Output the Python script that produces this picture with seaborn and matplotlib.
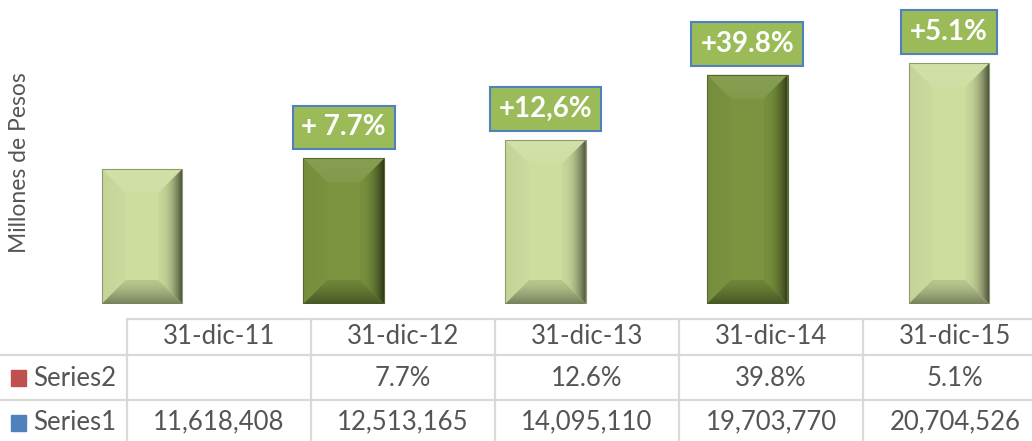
import numpy as np
import pandas as pd
import matplotlib
matplotlib.use("Agg")
import matplotlib.pyplot as plt
from matplotlib.patches import Polygon
from matplotlib.colors import to_rgb
import seaborn as sns

# ---------------------------------------------------
# Daten
# ---------------------------------------------------
fechas = ["31-dic-11", "31-dic-12", "31-dic-13", "31-dic-14", "31-dic-15"]
series1 = [11618408, 12513165, 14095110, 19703770, 20704526]
series2 = [None, 7.7, 12.6, 39.8, 5.1]
etiquetas = [None, "+ 7.7%", "+12,6%", "+39.8%", "+5.1%"]
colores_barras = ["#CCDD9E", "#7A943F", "#CCDD9E", "#7A943F", "#CCDD9E"]

W, H = 1032, 441
FONT = ["Lato", "DejaVu Sans"]
GRIS = "#555555"

sns.set_theme(style="white")
plt.rcParams["font.family"] = FONT

fig = plt.figure(figsize=(W / 100, H / 100), dpi=100)


def fx(x):
    return x / W


def fy(y):
    return 1 - y / H


def mix(c, other, t):
    c = np.array(to_rgb(c))
    o = np.array(to_rgb(other))
    return tuple(c * (1 - t) + o * t)


# ---------------------------------------------------
# Balken
# ---------------------------------------------------
base_y = 304
ax = fig.add_axes([0, fy(base_y), 1, base_y / H])
df = pd.DataFrame({"fecha": fechas, "valor": series1})
sns.barplot(data=df, x="fecha", y="valor", hue="fecha", palette=colores_barras,
            width=0.4, saturation=1, legend=False, ax=ax)

xlim = (-0.704, 4.412)
ylim = (0, 26.14e6)
ax.set_xlim(*xlim)
ax.set_ylim(*ylim)
ax.axis("off")

px_x = (xlim[1] - xlim[0]) / W
px_y = (ylim[1] - ylim[0]) / base_y


def gradient(ax, poly, extent, c_in, c_out, direction, power=1.0):
    n = 64
    t = np.linspace(0, 1, n) ** power
    cols = np.array([mix(c_in, c_out, v) for v in t])
    if direction == "right":
        img = cols[None, :, :]
    elif direction == "left":
        img = cols[::-1][None, :, :]
    elif direction == "up":
        img = cols[:, None, :]
    else:
        img = cols[::-1][:, None, :]
    im = ax.imshow(img, extent=extent, origin="lower", aspect="auto",
                   interpolation="bilinear", zorder=3)
    patch = Polygon(poly, closed=True, transform=ax.transData,
                    facecolor="none", edgecolor="none")
    ax.add_patch(patch)
    im.set_clip_path(patch)


d = 24
for p, base in zip(list(ax.patches), colores_barras):
    x0, y0 = p.get_x(), p.get_y()
    x1, y1 = x0 + p.get_width(), y0 + p.get_height()
    dx, dy = d * px_x, d * px_y
    ix0, ix1, iy0, iy1 = x0 + dx, x1 - dx, y0 + dy, y1 - dy
    # oben
    gradient(ax, [(x0, y1), (x1, y1), (ix1, iy1), (ix0, iy1)],
             (x0, x1, iy1, y1), mix(base, "white", 0.06), mix(base, "white", 0.10), "up")
    # links
    gradient(ax, [(x0, y0), (x0, y1), (ix0, iy1), (ix0, iy0)],
             (x0, ix0, y0, y1), mix(base, "black", 0.01), mix(base, "black", 0.04), "left")
    # rechts
    gradient(ax, [(x1, y0), (x1, y1), (ix1, iy1), (ix1, iy0)],
             (ix1, x1, y0, y1), mix(base, "black", 0.03), mix(base, "black", 0.62), "right",
             power=2.2)
    # unten
    gradient(ax, [(x0, y0), (x1, y0), (ix1, iy0), (ix0, iy0)],
             (x0, x1, y0, iy0), mix(base, "black", 0.10), mix(base, "black", 0.42), "down",
             power=1.4)
    edge = Polygon([(x0, y0), (x1, y0), (x1, y1), (x0, y1)], closed=True,
                   facecolor="none", edgecolor=mix(base, "black", 0.3), lw=0.8, zorder=4)
    ax.add_patch(edge)

# Beschriftungsbox
for p, lab in zip(list(ax.patches)[:5], etiquetas):
    if lab is None:
        continue
    xc = p.get_x() + p.get_width() / 2
    ax.annotate(lab, xy=(xc, p.get_height()), xytext=(0, 31), textcoords="offset pixels",
                ha="center", va="center", color="white", fontsize=20, fontweight="bold",
                family=FONT, zorder=6, annotation_clip=False,
                bbox=dict(boxstyle="square,pad=0.32", facecolor="#9BBB59",
                          edgecolor="#4F81BD", linewidth=1.5))

ax.set_xlim(*xlim)
ax.set_ylim(*ylim)

# ---------------------------------------------------
# Achsentitel
# ---------------------------------------------------
fig.text(fx(20), fy(163), "Millones de Pesos", rotation=90, ha="center", va="center",
         fontsize=16.5, color=GRIS, family=FONT)

# ---------------------------------------------------
# Datentabelle
# ---------------------------------------------------
linea = "#D9D9D9"
col_x = [127, 311, 495, 679, 863, 1047]
for y, xs in [(319, 127), (355, 0), (400, 0)]:
    fig.add_artist(plt.Line2D([fx(xs), 1], [fy(y), fy(y)], color=linea, lw=1.6))
for x in col_x[:-1]:
    fig.add_artist(plt.Line2D([fx(x), fx(x)], [fy(319), 0], color=linea, lw=1.6))

ts = 18.5
for i, f in enumerate(fechas):
    xc = (col_x[i] + col_x[i + 1]) / 2
    fig.text(fx(xc), fy(337), f, ha="center", va="center", fontsize=ts, color=GRIS, family=FONT)
    if series2[i] is not None:
        fig.text(fx(xc), fy(378), f"{series2[i]}%", ha="center", va="center",
                 fontsize=ts, color=GRIS, family=FONT)
    fig.text(fx(xc), fy(422), f"{series1[i]:,}", ha="center", va="center",
             fontsize=ts, color=GRIS, family=FONT)

for nombre, color, y in [("Series2", "#C0504D", 378), ("Series1", "#4F81BD", 423)]:
    fig.add_artist(plt.Rectangle((fx(11), fy(y + 8)), 15 / W, 16 / H, color=color))
    fig.text(fx(33), fy(y), nombre, ha="left", va="center", fontsize=ts, color=GRIS, family=FONT)

fig.savefig("out.png", dpi=100)
